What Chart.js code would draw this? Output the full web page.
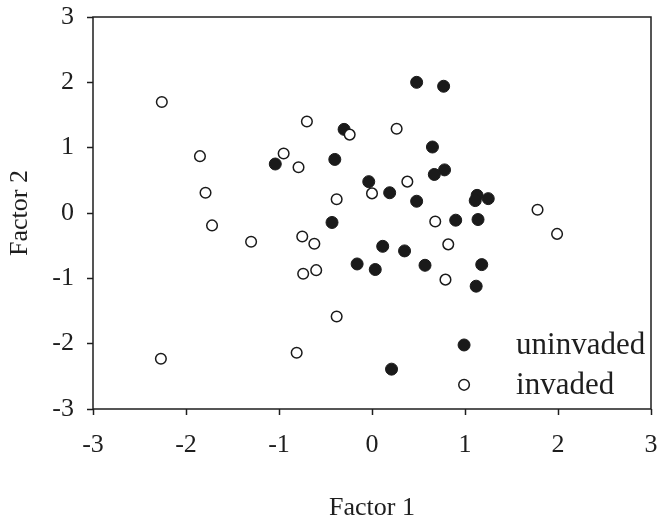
<!DOCTYPE html>
<html>
<head>
<meta charset="utf-8">
<script src="https://cdn.jsdelivr.net/npm/chart.js@4.4.1/dist/chart.umd.min.js"></script>
<style>
    html, body { margin: 0; padding: 0; background: #fff; }
    #wrap { width: 658px; height: 518px; position: relative; }
</style>
</head>
<body>
<div id="wrap"><canvas id="chart"></canvas></div>
<script>
// Factor scores
const uninvadedX = [0.48, 0.77, -0.30, 0.65, -0.40, -1.04, 0.78, 0.67, -0.035, 0.19, 0.48, 1.13, 1.11, 1.25,
    -0.43, 0.90, 1.14, 0.115, 0.35, -0.16, 0.035, 0.57, 1.18, 1.12, 0.21];
const uninvadedY = [2.00, 1.94, 1.28, 1.01, 0.82, 0.75, 0.66, 0.59, 0.48, 0.31, 0.18, 0.27, 0.19, 0.22,
    -0.145, -0.11, -0.10, -0.51, -0.58, -0.78, -0.865, -0.80, -0.79, -1.12, -2.39];

const invadedX = [-2.26, -0.70, -0.24, 0.265, -1.85, -0.95, -0.79, 0.38, 0.0, -1.79, -0.38, 1.78, 1.99,
    0.68, 0.82, 0.79, -1.72, -1.30, -0.75, -0.62, -0.74, -0.60, -0.38, -0.81, -2.27];
const invadedY = [1.70, 1.40, 1.20, 1.29, 0.87, 0.91, 0.70, 0.48, 0.30, 0.31, 0.21, 0.05, -0.32,
    -0.13, -0.48, -1.02, -0.19, -0.44, -0.36, -0.47, -0.93, -0.875, -1.585, -2.14, -2.23];

const seriesNames = ['uninvaded', 'invaded'];
const axisTicks = [-3, -2, -1, 0, 1, 2, 3];

const serif = "'Liberation Serif', 'Times New Roman', serif";
const ink = '#1e1e1e';

function toPoints(xs, ys) {
    return xs.map((x, i) => ({ x: x, y: ys[i] }));
}

// box around the plot area (top and right sides have no ticks)
const frame = {
    id: 'frame',
    afterDraw(chart) {
        const { ctx, chartArea: a } = chart;
        ctx.save();
        ctx.strokeStyle = ink;
        ctx.lineWidth = 1.5;
        ctx.strokeRect(a.left, a.top, a.right - a.left, a.bottom - a.top);
        ctx.restore();
    }
};

// legend sits inside the plot, lower right
const insideLegend = {
    id: 'insideLegend',
    afterDraw(chart) {
        const { ctx, scales } = chart;
        const mx = scales.x.getPixelForValue(0.99);
        const rows = [scales.y.getPixelForValue(-2.02), scales.y.getPixelForValue(-2.63)];
        ctx.save();
        ctx.font = '31px ' + serif;
        ctx.textBaseline = 'middle';
        rows.forEach((y, i) => {
            const ds = chart.data.datasets[i];
            ctx.beginPath();
            ctx.arc(mx, y, ds.pointRadius, 0, Math.PI * 2);
            ctx.fillStyle = ds.backgroundColor;
            ctx.fill();
            ctx.lineWidth = ds.borderWidth;
            ctx.strokeStyle = ds.borderColor;
            ctx.stroke();
            ctx.fillStyle = ink;
            ctx.fillText(seriesNames[i], mx + 52, y + 1);
        });
        ctx.restore();
    }
};

const tickValues = (scale) => { scale.ticks = axisTicks.map(v => ({ value: v })); };

// keep the edge labels from pushing the plot area inward
function noEdgePad(s) {
    s.paddingLeft = 0;
    s.paddingRight = 0;
    s.paddingTop = 0;
    s.paddingBottom = 0;
}

new Chart(document.getElementById('chart'), {
    type: 'scatter',
    data: {
        datasets: [
            {
                label: seriesNames[0],
                data: toPoints(uninvadedX, uninvadedY),
                pointRadius: 6,
                backgroundColor: '#1a1a1a',
                borderColor: '#1a1a1a',
                borderWidth: 1,
                order: 2,
            },
            {
                label: seriesNames[1],
                data: toPoints(invadedX, invadedY),
                pointRadius: 5.3,
                backgroundColor: '#fff',
                borderColor: '#1a1a1a',
                borderWidth: 1.5,
                order: 1,
            },
        ]
    },
    options: {
        responsive: true,
        maintainAspectRatio: false,
        animation: false,
        layout: { padding: { left: 0, right: 6, top: 17, bottom: 0 } },
        plugins: {
            legend: { display: false },
            tooltip: { enabled: false },
        },
        scales: {
            x: {
                type: 'linear',
                min: -3,
                max: 3,
                afterBuildTicks: tickValues,
                afterFit: (s) => { s.height = 109; noEdgePad(s); },
                border: { display: false },
                grid: { drawOnChartArea: false, tickLength: 6, tickColor: ink, tickWidth: 1.5 },
                ticks: { color: ink, padding: 15, font: { family: serif, size: 26 } },
                title: {
                    display: true,
                    text: 'Factor 1',
                    color: ink,
                    padding: { top: 0, bottom: -3 },
                    font: { family: serif, size: 26, lineHeight: 1 },
                },
            },
            y: {
                type: 'linear',
                min: -3,
                max: 3,
                afterBuildTicks: tickValues,
                afterFit: (s) => { s.width = 93; noEdgePad(s); },
                border: { display: false },
                grid: { drawOnChartArea: false, tickLength: 6, tickColor: ink, tickWidth: 1.5 },
                ticks: { color: ink, padding: 13, font: { family: serif, size: 26 } },
                title: {
                    display: true,
                    text: 'Factor 2',
                    color: ink,
                    padding: { top: 7, bottom: 0 },
                    font: { family: serif, size: 26, lineHeight: 1 },
                },
            },
        }
    },
    plugins: [frame, insideLegend]
});
</script>
</body>
</html>
